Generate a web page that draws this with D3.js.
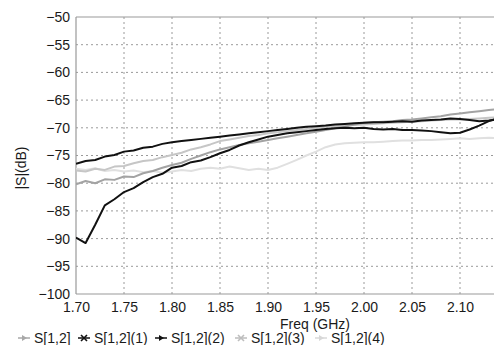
<!DOCTYPE html>
<html><head><meta charset="utf-8">
<script src="https://cdn.jsdelivr.net/npm/d3@7"></script>
<style>html,body{margin:0;padding:0;background:#fff;overflow:hidden}</style>
</head><body>
<svg id="c" width="494" height="345"></svg>
<script>
const freqs = [1.70,1.71,1.72,1.73,1.74,1.75,1.76,1.77,1.78,1.79,1.80,1.81,1.82,1.83,1.84,1.85,1.86,1.87,1.88,1.89,1.90,1.91,1.92,1.93,1.94,1.95,1.96,1.97,1.98,1.99,2.00,2.01,2.02,2.03,2.04,2.05,2.06,2.07,2.08,2.09,2.10,2.11,2.12,2.13,2.14,2.15];
const s12 = [-80.2,-79.6,-80.0,-79.3,-79.4,-78.8,-78.9,-78.2,-77.8,-77.2,-76.7,-76.3,-75.6,-75.0,-74.4,-73.9,-73.5,-73.1,-72.8,-72.5,-72.2,-71.9,-71.6,-71.3,-71.0,-70.7,-70.4,-70.1,-69.8,-69.4,-69.1,-69.0,-68.9,-68.8,-68.6,-68.5,-68.3,-68.1,-67.9,-67.6,-67.4,-67.2,-67.0,-66.8,-66.6,-66.5];
const s12_1 = [-76.5,-76.0,-75.8,-75.2,-74.9,-74.3,-74.1,-73.6,-73.4,-72.9,-72.6,-72.4,-72.2,-72.0,-71.8,-71.6,-71.4,-71.2,-71.0,-70.8,-70.6,-70.4,-70.2,-70.0,-69.8,-69.7,-69.6,-69.4,-69.3,-69.2,-69.1,-69.0,-69.0,-68.9,-68.8,-68.9,-68.7,-68.6,-68.5,-68.3,-68.4,-68.6,-68.8,-68.7,-68.4,-68.2];
const s12_2 = [-89.8,-90.8,-87.5,-84.0,-82.9,-81.6,-80.9,-79.8,-78.9,-78.3,-77.2,-76.9,-76.2,-75.9,-75.3,-74.6,-74.0,-73.2,-72.6,-72.1,-71.6,-71.3,-71.0,-70.8,-70.6,-70.4,-70.2,-70.1,-70.0,-70.1,-70.0,-70.2,-70.3,-70.2,-70.4,-70.4,-70.5,-70.6,-70.8,-71.0,-70.9,-70.3,-69.6,-68.8,-68.3,-68.0];
const s12_3 = [-77.7,-77.9,-77.4,-77.6,-77.0,-76.9,-76.4,-76.0,-75.8,-75.3,-74.9,-74.5,-73.9,-73.5,-73.0,-72.4,-72.1,-71.8,-71.5,-71.3,-71.0,-70.8,-70.6,-70.4,-70.2,-70.0,-69.8,-69.7,-69.6,-69.5,-69.4,-69.3,-69.2,-69.1,-69.0,-68.9,-68.8,-68.7,-68.6,-68.5,-68.5,-68.4,-68.3,-68.2,-68.1,-68.0];
const s12_4 = [-77.4,-77.6,-77.3,-77.8,-77.6,-77.9,-77.7,-78.0,-77.8,-78.1,-77.9,-77.6,-77.8,-77.4,-77.2,-77.4,-77.0,-77.3,-77.6,-77.4,-77.6,-77.2,-76.5,-75.8,-75.0,-74.3,-73.5,-73.0,-72.8,-72.7,-72.6,-72.6,-72.5,-72.4,-72.3,-72.3,-72.2,-72.2,-72.1,-72.0,-71.9,-72.0,-71.9,-71.8,-71.9,-71.8];
const seriesNames = ["S[1,2]","S[1,2](1)","S[1,2](2)","S[1,2](3)","S[1,2](4)"];
const xTicks = [1.70,1.75,1.80,1.85,1.90,1.95,2.00,2.05,2.10,2.15];
const yTicks = [-50,-55,-60,-65,-70,-75,-80,-85,-90,-95,-100];

const series = [
  {name: seriesNames[0], values: s12,   color: "#a3a3a3", legend: "#a8a8a8", marker: "arrow"},
  {name: seriesNames[1], values: s12_1, color: "#111111", legend: "#111111", marker: "x"},
  {name: seriesNames[2], values: s12_2, color: "#111111", legend: "#111111", marker: "arrow"},
  {name: seriesNames[3], values: s12_3, color: "#c6c6c6", legend: "#bdbdbd", marker: "x"},
  {name: seriesNames[4], values: s12_4, color: "#e0e0e0", legend: "#d8d8d8", marker: "arrow"}
];

const svg = d3.select("#c");
const L = 76, T = 17, B = 294, R = 508;
const x = d3.scaleLinear().domain([1.70, 2.15]).range([L, R]);
const y = d3.scaleLinear().domain([-100, -50]).range([B, T]);
const font = "'Liberation Sans', Arial, sans-serif";

// grid
const grid = svg.append("g");
grid.selectAll("line.h").data(yTicks.filter(d => d !== -50 && d !== -100)).enter()
  .append("line").attr("x1", L).attr("x2", R).attr("y1", d => y(d)).attr("y2", d => y(d))
  .attr("stroke", "#9a9a9a").attr("stroke-width", 1).attr("stroke-dasharray", "2,3");
grid.selectAll("line.v").data(xTicks.slice(1)).enter()
  .append("line").attr("y1", T).attr("y2", B).attr("x1", d => x(d)).attr("x2", d => x(d))
  .attr("stroke", "#9a9a9a").attr("stroke-width", 1).attr("stroke-dasharray", "2,3");

// frame
svg.append("line").attr("x1", L).attr("x2", R).attr("y1", T).attr("y2", T).attr("stroke", "#999").attr("stroke-width", 1.2);
svg.append("line").attr("x1", L).attr("x2", L).attr("y1", T).attr("y2", B).attr("stroke", "#999").attr("stroke-width", 1.2);
svg.append("line").attr("x1", L).attr("x2", R).attr("y1", B).attr("y2", B).attr("stroke", "#999").attr("stroke-width", 1.2);

// axes via d3
const yAxis = d3.axisLeft(y).tickValues(yTicks).tickFormat(d3.format("d")).tickSize(0).tickPadding(6);
const gy = svg.append("g").attr("transform", `translate(${L},0)`).call(yAxis);
gy.select(".domain").remove();
gy.selectAll("text").attr("font-family", font).attr("font-size", 14).attr("fill", "#1a1a1a");

const xAxis = d3.axisBottom(x).tickValues(xTicks).tickFormat(d3.format(".2f")).tickSize(0).tickPadding(8);
const gx = svg.append("g").attr("transform", `translate(0,${B})`).call(xAxis);
gx.select(".domain").remove();
gx.selectAll("text").attr("font-family", font).attr("font-size", 14).attr("fill", "#1a1a1a");

// axis titles
svg.append("text").attr("x", 315).attr("y", 329).attr("text-anchor", "middle")
  .attr("font-family", font).attr("font-size", 14).attr("fill", "#1a1a1a").text("Freq (GHz)");
svg.append("text").attr("transform", "translate(26,168) rotate(-90)").attr("text-anchor", "middle")
  .attr("font-family", font).attr("font-size", 14).attr("fill", "#1a1a1a").text("|S|(dB)");

// lines
svg.append("clipPath").attr("id", "clip").append("rect").attr("x", L).attr("y", T).attr("width", R - L).attr("height", B - T);
const line = d3.line().x((d, i) => x(freqs[i])).y(d => y(d));
const order = [4, 3, 0, 1, 2];
svg.append("g").attr("clip-path", "url(#clip)").selectAll("path").data(order.map(i => series[i])).enter()
  .append("path").attr("d", d => line(d.values)).attr("fill", "none")
  .attr("stroke", d => d.color).attr("stroke-width", 2).attr("stroke-linejoin", "round");

// legend
const legX = [18, 78, 155, 235, 315];
const legY = 338;
const lg = svg.append("g");
series.forEach((s, i) => {
  const g = lg.append("g").attr("transform", `translate(${legX[i]},${legY})`);
  const c = s.legend;
  g.append("line").attr("x1", 0).attr("x2", 12).attr("y1", 0).attr("y2", 0).attr("stroke", c).attr("stroke-width", 1.5);
  if (s.marker === "arrow") {
    g.append("path").attr("d", "M4,-3L9,0L4,3Z").attr("fill", c);
  } else {
    g.append("path").attr("d", "M3,-3L9,3M3,3L9,-3").attr("stroke", c).attr("stroke-width", 1.6);
  }
  g.append("text").attr("x", 16).attr("y", 4.5).attr("font-family", font).attr("font-size", 14).attr("fill", "#1a1a1a").text(s.name);
});
</script>
</body></html>
